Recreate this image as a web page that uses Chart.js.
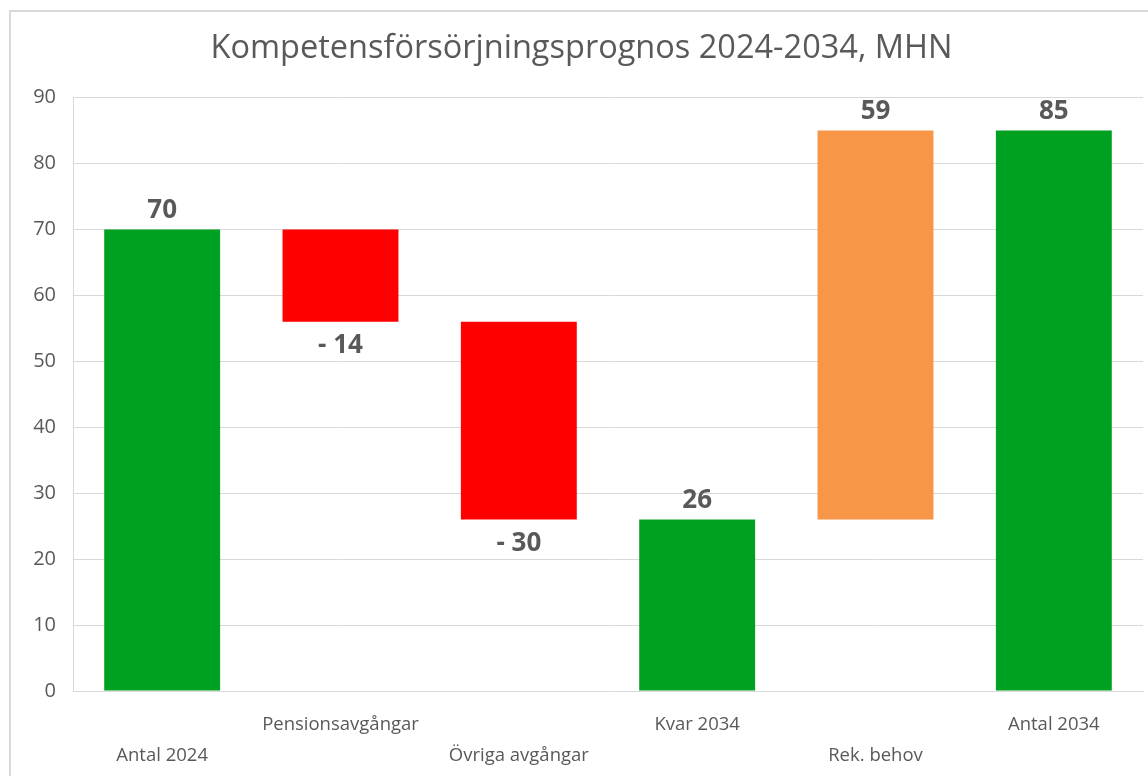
<!DOCTYPE html>
<html>
<head>
<meta charset="utf-8">
<script src="https://cdn.jsdelivr.net/npm/chart.js@4"></script>
<style>
  html, body { margin: 0; padding: 0; background: #ffffff; }
  #wrap { position: relative; width: 1148px; height: 776px; overflow: hidden; }
  #frame { position: absolute; left: 9px; top: 10px; width: 1200px; height: 800px;
           border-left: 2px solid #d9d9d9; border-top: 2px solid #d9d9d9; box-sizing: border-box; }
  canvas { position: absolute; left: 0; top: 0; }
</style>
</head>
<body>
<div id="wrap">
  <div id="frame"></div>
  <canvas id="c" width="1148" height="776"></canvas>
</div>
<script>
const chartTitle = 'Kompetensförsörjningsprognos 2024-2034, MHN';
const categories = ['Antal 2024', 'Pensionsavgångar', 'Övriga avgångar', 'Kvar 2034', 'Rek. behov', 'Antal 2034'];
const changes = [70, -14, -30, 26, 59, 85];
const valueLabels = ['70', '- 14', '- 30', '26', '59', '85'];
const barStart = [0, 56, 26, 0, 26, 0];
const barEnd = [70, 70, 56, 26, 85, 85];
const barColors = ['#00a020', '#ff0000', '#ff0000', '#00a020', '#f79646', '#00a020'];
const yTicks = [0, 10, 20, 30, 40, 50, 60, 70, 80, 90];

// staggered category labels: even index on lower row, odd on upper row
const xLabels = categories.map((c, i) => i % 2 === 0 ? ['', c] : [c, '']);

const valueLabelPlugin = {
  id: 'valueLabels',
  afterDatasetsDraw(chart) {
    const ctx = chart.ctx;
    const meta = chart.getDatasetMeta(0);
    const y = chart.scales.y;
    ctx.save();
    ctx.font = 'bold 26px "Open Sans"';
    ctx.fillStyle = '#595959';
    ctx.textAlign = 'center';
    ctx.textBaseline = 'middle';
    meta.data.forEach((el, i) => {
      const v = changes[i];
      let ty;
      if (v >= 0) {
        ty = y.getPixelForValue(barEnd[i]) - 19;
      } else {
        ty = y.getPixelForValue(barStart[i]) + 24;
      }
      ctx.fillText(valueLabels[i], el.x, ty);
    });
    ctx.restore();
  }
};

new Chart(document.getElementById('c'), {
  type: 'bar',
  data: {
    labels: xLabels,
    datasets: [{
      data: categories.map((c, i) => [barStart[i], barEnd[i]]),
      backgroundColor: barColors,
      borderWidth: 0,
      barPercentage: 0.65,
      categoryPercentage: 1.0
    }]
  },
  options: {
    responsive: false,
    animation: false,
    layout: { padding: { left: 20, right: 5, top: 0, bottom: 0 } },
    plugins: {
      legend: { display: false },
      tooltip: { enabled: false },
      title: {
        display: true,
        text: chartTitle,
        color: '#595959',
        font: { family: '"Open Sans"', size: 32.5, weight: 'normal' },
        padding: { top: 29, bottom: 29.5 }
      }
    },
    scales: {
      x: {
        grid: { display: false, drawTicks: false },
        border: { display: true, color: '#d9d9d9', width: 1 },
        ticks: {
          color: '#595959',
          font: { family: '"Open Sans"', size: 18.5, lineHeight: 1.68 },
          padding: 18,
          maxRotation: 0,
          autoSkip: false
        },
        afterFit(scale) { scale.height = 85; }
      },
      y: {
        min: 0,
        max: 90,
        afterBuildTicks(scale) { scale.ticks = yTicks.map(v => ({ value: v })); },
        grid: { color: '#d9d9d9', lineWidth: 1, drawTicks: false },
        border: { display: true, color: '#d9d9d9', width: 1 },
        ticks: {
          color: '#595959',
          font: { family: '"Open Sans"', size: 20 },
          padding: 17
        },
        afterFit(scale) { scale.width = 53; }
      }
    }
  },
  plugins: [valueLabelPlugin]
});
</script>
</body>
</html>
